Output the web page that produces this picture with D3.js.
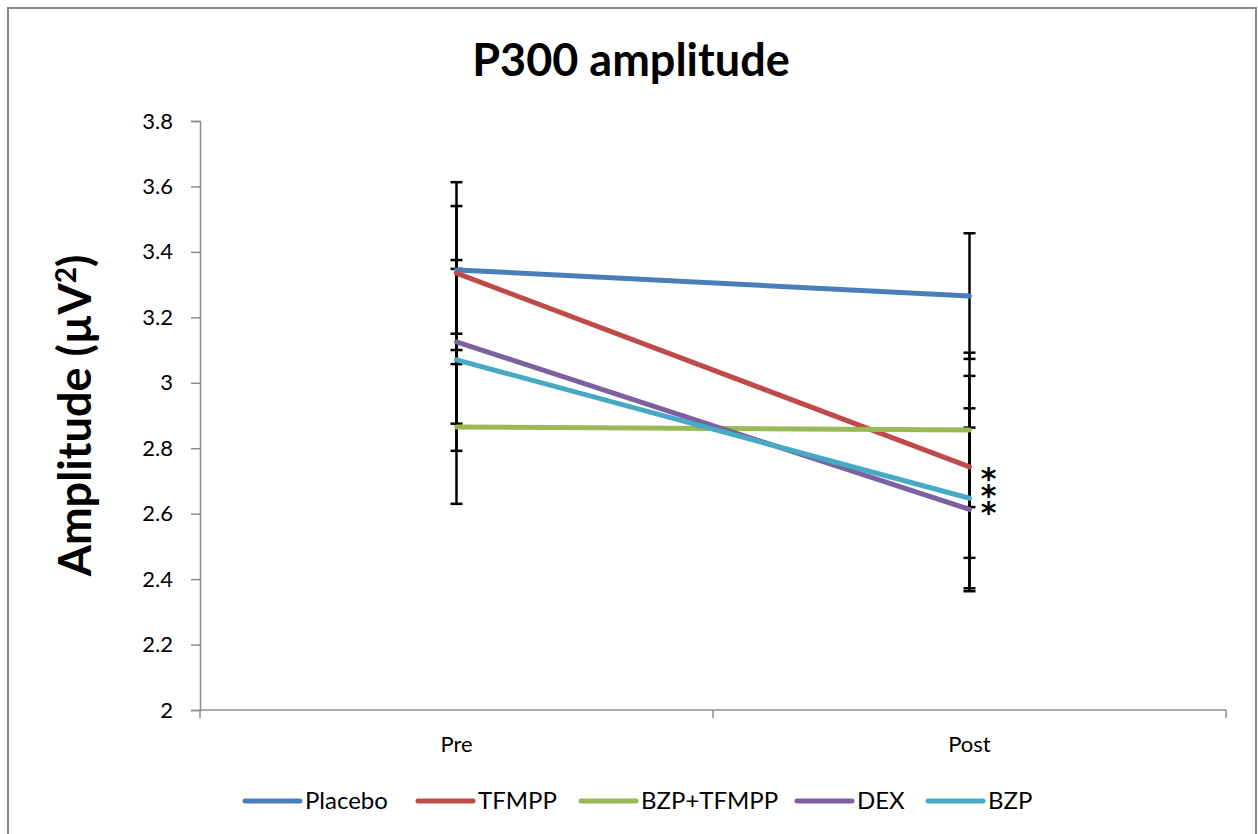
<!DOCTYPE html>
<html lang="en">
<head>
<meta charset="UTF-8">
<title>P300 amplitude</title>
<style>
  body { margin: 0; background: #fff; }
  text { font-family: Lato, "Open Sans", sans-serif; fill: #000; }
</style>
</head>
<body>
<svg width="1258" height="834"></svg>
<script src="https://d3js.org/d3.v7.min.js"></script>
<script>
// data
var timepoints = ["Pre", "Post"];
var seriesNames = ["Placebo", "TFMPP", "BZP+TFMPP", "DEX", "BZP"];
var seriesColors = ["#4a7ebb", "#be4b48", "#98b954", "#7d60a0", "#46aac5"];
var meanPre  = [3.345, 3.335, 2.865, 3.125, 3.07];
var meanPost = [3.265, 2.743, 2.856, 2.613, 2.647];
var errPre   = [0.195, 0.278, 0.235, 0.25, 0.278];
var errPost  = [0.192, 0.278, 0.236, 0.25, 0.275];
var starredSeries = ["TFMPP", "BZP", "DEX"];
var yTicks = [2, 2.2, 2.4, 2.6, 2.8, 3, 3.2, 3.4, 3.6, 3.8];

var svg = d3.select("svg");
var margin = {top: 121, right: 32, bottom: 124, left: 200};
var width = 1258 - margin.left - margin.right,
    height = 834 - margin.top - margin.bottom;

// outer border
svg.append("rect")
    .attr("x", 8).attr("y", 8)
    .attr("width", 1248).attr("height", 840)
    .attr("fill", "none").attr("stroke", "#878787").attr("stroke-width", 2);

var g = svg.append("g").attr("transform", "translate(" + margin.left + "," + margin.top + ")");

var x = d3.scaleBand().domain(timepoints).range([0, width]);
var y = d3.scaleLinear().domain([2, 3.8]).range([height, 0]);

function xc(t) { return x(t) + x.bandwidth() / 2; }

// y axis
var yAxis = g.append("g")
    .call(d3.axisLeft(y).tickValues(yTicks).tickSize(9).tickPadding(18)
        .tickFormat(function(d) { return d3.format("")(d); }));
yAxis.select(".domain").attr("stroke", "#8c8c8c").attr("stroke-width", 1.5);
yAxis.selectAll(".tick line").attr("stroke", "#8c8c8c").attr("stroke-width", 1.5);
yAxis.selectAll(".tick text").style("font-size", "22px").style("font-family", "Lato, sans-serif");

// x axis with ticks at band edges
var xAxis = g.append("g").attr("transform", "translate(0," + height + ")");
xAxis.append("line").attr("x1", 0).attr("x2", width)
    .attr("stroke", "#8c8c8c").attr("stroke-width", 1.5);
[0, x.bandwidth(), width].forEach(function(px) {
  xAxis.append("line").attr("x1", px).attr("x2", px).attr("y1", 0).attr("y2", 8)
      .attr("stroke", "#8c8c8c").attr("stroke-width", 1.5);
});
xAxis.selectAll(".lbl").data(timepoints).enter().append("text")
    .attr("x", function(d) { return xc(d); })
    .attr("y", 42)
    .attr("text-anchor", "middle")
    .style("font-size", "22px")
    .text(function(d) { return d; });

// error bars
seriesNames.forEach(function(name, i) {
  [[timepoints[0], meanPre[i], errPre[i]], [timepoints[1], meanPost[i], errPost[i]]].forEach(function(p) {
    var cx = xc(p[0]);
    var eb = g.append("g").attr("stroke", "#000").attr("stroke-width", 2.5);
    eb.append("line").attr("x1", cx).attr("x2", cx)
        .attr("y1", y(p[1] - p[2])).attr("y2", y(p[1] + p[2]));
    [p[1] - p[2], p[1] + p[2]].forEach(function(v) {
      eb.append("line").attr("x1", cx - 6).attr("x2", cx + 6)
          .attr("y1", y(v)).attr("y2", y(v));
    });
  });
});

// series lines
seriesNames.forEach(function(name, i) {
  g.append("line")
      .attr("x1", xc("Pre")).attr("y1", y(meanPre[i]))
      .attr("x2", xc("Post")).attr("y2", y(meanPost[i]))
      .attr("stroke", seriesColors[i]).attr("stroke-width", 5)
      .attr("stroke-linecap", "round");
});

// significance stars, one text block beside the Post points
var stars = g.append("text")
    .attr("x", xc("Post") + 19)
    .attr("y", y(meanPost[seriesNames.indexOf("TFMPP")]) + 22)
    .attr("text-anchor", "middle")
    .style("font-size", "30px")
    .style("font-weight", "bold")
    .style("font-family", "'DejaVu Sans', sans-serif");
starredSeries.forEach(function(name, k) {
  stars.append("tspan")
      .attr("x", xc("Post") + 19)
      .attr("dy", k === 0 ? 0 : 17)
      .text("*");
});

// title
svg.append("text")
    .attr("x", 631).attr("y", 76)
    .attr("text-anchor", "middle")
    .style("font-size", "45px").style("font-weight", "bold")
    .text("P300 amplitude");

// y label
svg.append("text")
    .attr("transform", "translate(91," + (margin.top + height / 2) + ") rotate(-90)")
    .attr("text-anchor", "middle")
    .style("font-size", "45px").style("font-weight", "bold")
    .html("Amplitude (µV<tspan dy='-15' font-size='28px'>2</tspan><tspan dy='15'>)</tspan>");

// legend
var legendX = [245, 418, 581, 797, 928];
var legend = svg.append("g").attr("transform", "translate(0,801)");
seriesNames.forEach(function(name, i) {
  legend.append("line")
      .attr("x1", legendX[i]).attr("x2", legendX[i] + 55)
      .attr("stroke", seriesColors[i]).attr("stroke-width", 5)
      .attr("stroke-linecap", "round");
  legend.append("text")
      .attr("x", legendX[i] + 60).attr("y", 8)
      .style("font-size", "24px")
      .text(name);
});
</script>
</body>
</html>
